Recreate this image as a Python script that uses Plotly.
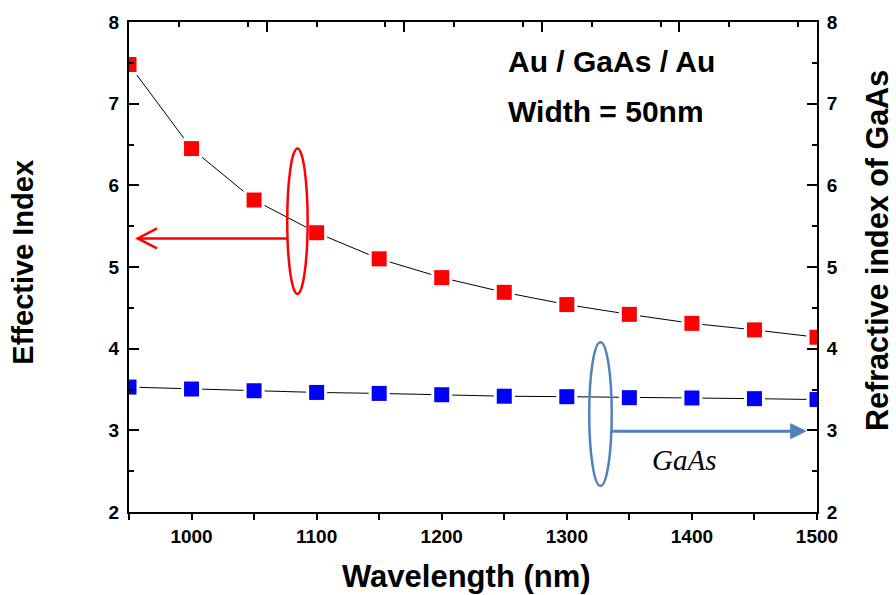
import plotly.graph_objects as go

# Wavelength sweep (nm)
wavelength = [950, 1000, 1050, 1100, 1150, 1200, 1250, 1300, 1350, 1400, 1450, 1500]
# Effective index of the Au / GaAs / Au waveguide (width 50 nm)
effective_index = [7.48, 6.45, 5.82, 5.42, 5.10, 4.87, 4.69, 4.54, 4.42, 4.31, 4.23, 4.14]
# Refractive index of bulk GaAs
gaas_index = [3.53, 3.506, 3.485, 3.464, 3.452, 3.436, 3.418, 3.412, 3.40, 3.396, 3.388, 3.377]

FONT = "Liberation Sans, Arial, sans-serif"
RED = "#ff0000"
BLUE_MARK = "#0000ff"
STEEL = "#4f81bd"

fig = go.Figure()


def add_series(y, color, xa, ya):
    # thin black connector, white halo to open a gap around each square, then the square
    fig.add_trace(go.Scatter(x=wavelength, y=y, mode="lines", xaxis=xa, yaxis=ya,
                             line=dict(color="black", width=1), hoverinfo="skip"))
    fig.add_trace(go.Scatter(x=wavelength, y=y, mode="markers", xaxis=xa, yaxis=ya,
                             marker=dict(symbol="square", size=21, color="white",
                                         line=dict(width=0)), hoverinfo="skip"))
    fig.add_trace(go.Scatter(x=wavelength, y=y, mode="markers", xaxis=xa, yaxis=ya,
                             marker=dict(symbol="square", size=15, color=color,
                                         line=dict(width=0))))


add_series(effective_index, RED, "x", "y")
add_series(gaas_index, BLUE_MARK, "x2", "y2")

tick_font = dict(family=FONT, size=19, color="black", weight="bold")
common_y = dict(range=[2, 8], dtick=1, tick0=2, ticks="inside", ticklen=10, tickwidth=2,
                tickcolor="black", showline=True, linewidth=2, linecolor="black",
                showgrid=False, zeroline=False, tickfont=tick_font,
                minor=dict(dtick=0.5, ticks="inside", ticklen=5, tickwidth=2, tickcolor="black"))

fig.update_layout(
    width=896, height=595,
    margin=dict(l=129, r=79, t=19, b=83, pad=0),
    paper_bgcolor="white", plot_bgcolor="white",
    showlegend=False,
    xaxis=dict(range=[950, 1500], tick0=1000, dtick=100, ticks="outside", ticklen=6,
               tickwidth=2, tickcolor="black", showline=True, linewidth=2, linecolor="black",
               showgrid=False, zeroline=False, tickfont=tick_font,
               minor=dict(dtick=50, tick0=950, ticks="outside", ticklen=6, tickwidth=2,
                          tickcolor="black")),
    xaxis2=dict(range=[950, 1500], overlaying="x", side="top", anchor="y2", tick0=950,
                dtick=110, ticks="inside", ticklen=10, tickwidth=2, tickcolor="black",
                showticklabels=False, showline=True, linewidth=2, linecolor="black",
                showgrid=False, zeroline=False,
                minor=dict(dtick=55, ticks="inside", ticklen=5, tickwidth=2, tickcolor="black")),
    yaxis=dict(**common_y, side="left", ticklabelstandoff=4),
    yaxis2=dict(**common_y, side="right", overlaying="y", anchor="x2", ticklabelstandoff=4),
)


def bold(size):
    return dict(family=FONT, size=size, color="black", weight="bold")


fig.add_annotation(text="Wavelength (nm)", xref="paper", yref="paper", x=0.491, y=-0.132,
                   xanchor="center", yanchor="middle", showarrow=False, font=bold(31))
fig.add_annotation(text="Effective Index", xref="paper", yref="paper", x=-0.154, y=0.509,
                   xanchor="center", yanchor="middle", textangle=-90, showarrow=False,
                   font=bold(29))
fig.add_annotation(text="Refractive index of GaAs", xref="paper", yref="paper", x=1.087,
                   y=0.5345, xanchor="center", yanchor="middle", textangle=-90,
                   showarrow=False, font=bold(30.5))

# structure labels
fig.add_annotation(text="Au / GaAs / Au", x=1251, y=7.52, xanchor="left", yanchor="middle",
                   showarrow=False, font=bold(30))
fig.add_annotation(text="Width = 50nm", x=1251, y=6.91, xanchor="left", yanchor="middle",
                   showarrow=False, font=bold(30))
fig.add_annotation(text="GaAs", x=1394, y=2.64, xanchor="center", yanchor="middle",
                   showarrow=False,
                   font=dict(family="Liberation Serif, Times New Roman, serif", size=29,
                             color="black", style="italic"))

# ellipse marking the effective-index curve, with an arrow to the left axis
fig.add_shape(type="circle", xref="x", yref="y", x0=1076.5, x1=1092.8, y0=4.67, y1=6.45,
              line=dict(color=RED, width=2.5), layer="above")
fig.add_shape(type="line", xref="x", yref="y", x0=1076.5, x1=957, y0=5.35, y1=5.35,
              line=dict(color=RED, width=2.5), layer="above")
fig.add_shape(type="path", xref="x", yref="y",
              path="M 972.4,5.472 L 957,5.35 L 972.4,5.228",
              line=dict(color=RED, width=2.5), layer="above")

# ellipse marking the GaAs curve, with an arrow to the right axis
fig.add_shape(type="circle", xref="x", yref="y", x0=1317.9, x1=1335.9, y0=2.32, y1=4.08,
              line=dict(color=STEEL, width=2.5), layer="above")
fig.add_shape(type="line", xref="x", yref="y", x0=1335.9, x1=1480, y0=2.99, y1=2.99,
              line=dict(color=STEEL, width=3), layer="above")
fig.add_shape(type="path", xref="x", yref="y",
              path="M 1479,3.081 L 1491,2.99 L 1479,2.899 Z",
              fillcolor=STEEL, line=dict(color=STEEL, width=1), layer="above")

fig.write_html("out.html")
